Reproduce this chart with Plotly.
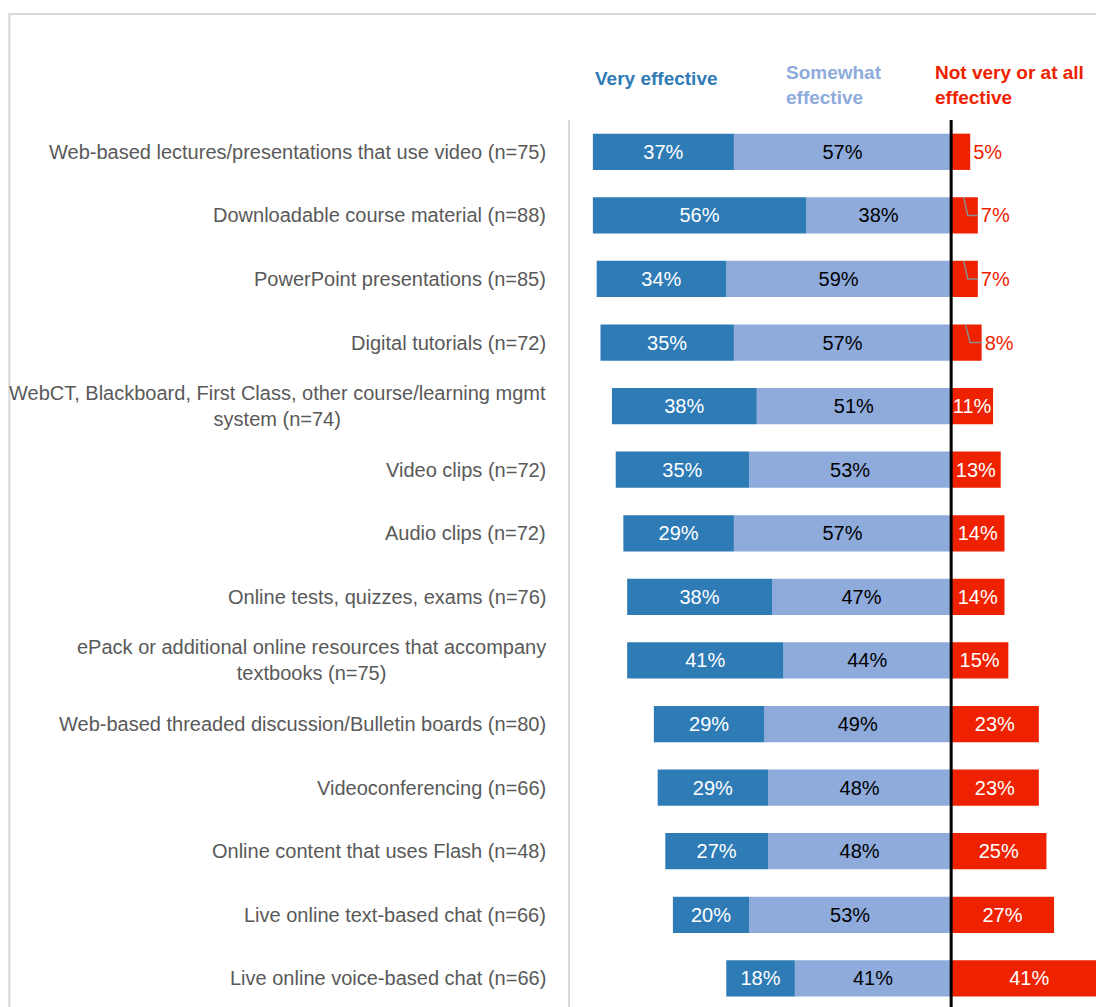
import plotly.graph_objects as go

# Survey: perceived effectiveness of online teaching tools (share of respondents, %)
categories = [
    "Web-based lectures/presentations that use video (n=75)",
    "Downloadable course material (n=88)",
    "PowerPoint presentations (n=85)",
    "Digital tutorials (n=72)",
    "WebCT, Blackboard, First Class, other course/learning mgmt<br>system (n=74)",
    "Video clips (n=72)",
    "Audio clips (n=72)",
    "Online tests, quizzes, exams (n=76)",
    "ePack or additional online resources that accompany<br>textbooks (n=75)",
    "Web-based threaded discussion/Bulletin boards (n=80)",
    "Videoconferencing (n=66)",
    "Online content that uses Flash (n=48)",
    "Live online text-based chat (n=66)",
    "Live online voice-based chat (n=66)",
]
very_effective = [37, 56, 34, 35, 38, 35, 29, 38, 41, 29, 29, 27, 20, 18]
somewhat_effective = [57, 38, 59, 57, 51, 53, 57, 47, 44, 49, 48, 48, 53, 41]
not_effective = [5, 7, 7, 8, 11, 13, 14, 14, 15, 23, 23, 25, 27, 41]
# rows whose outside label is tied to its bar with a leader line
leader_rows = [False, True, True, True, False, False, False, False, False,
               False, False, False, False, False]

C_VERY = "#2E7BB6"
C_SOME = "#8EABDC"
C_NOT = "#EE2200"
FONT = "Liberation Sans Narrow, Arial Narrow, Liberation Sans, Arial, sans-serif"
BAR_W = 0.57
OUTSIDE_LIMIT = 10
VAL_SIZE = 20

ypos = list(range(len(categories)))

fig = go.Figure()

# Negative side: "somewhat" sits next to the zero line, "very" stacks beyond it
fig.add_trace(go.Bar(
    y=ypos, x=[-v for v in somewhat_effective], orientation="h",
    marker=dict(color=C_SOME, line=dict(width=0)), width=BAR_W,
    text=[f"{v}%" for v in somewhat_effective], textposition="inside",
    insidetextanchor="middle", textangle=0, constraintext="none",
    textfont=dict(color="black", size=VAL_SIZE, family=FONT),
    name="Somewhat effective", hoverinfo="skip",
))
fig.add_trace(go.Bar(
    y=ypos, x=[-v for v in very_effective], orientation="h",
    marker=dict(color=C_VERY, line=dict(width=0)), width=BAR_W,
    text=[f"{v}%" for v in very_effective], textposition="inside",
    insidetextanchor="middle", textangle=0, constraintext="none",
    textfont=dict(color="white", size=VAL_SIZE, family=FONT),
    name="Very effective", hoverinfo="skip",
))
fig.add_trace(go.Bar(
    y=ypos, x=not_effective, orientation="h",
    marker=dict(color=C_NOT, line=dict(width=0)), width=BAR_W,
    text=[f"{v}%" for v in not_effective],
    textposition=["outside" if v < OUTSIDE_LIMIT else "inside" for v in not_effective],
    insidetextanchor="middle", textangle=0, constraintext="none",
    insidetextfont=dict(color="white", size=VAL_SIZE, family=FONT),
    outsidetextfont=dict(color=C_NOT, size=VAL_SIZE, family=FONT),
    name="Not very or at all effective", hoverinfo="skip",
))

shapes = []
# Zero line drawn above the bars
shapes.append(dict(type="line", xref="x", yref="paper", x0=0, x1=0, y0=0, y1=1,
                   line=dict(color="black", width=3), layer="above"))
# Leader lines for small outside labels
for i, (v, lead) in enumerate(zip(not_effective, leader_rows)):
    if lead and v < OUTSIDE_LIMIT:
        top = i - BAR_W / 2
        shapes.append(dict(
            type="path", xref="x", yref="y", layer="above",
            path=f"M {v*0.47} {top} L {v*0.62} {i} L {v} {i}",
            line=dict(color="#8C8C8C", width=1.5),
        ))
# Light chart frame
shapes.append(dict(type="rect", xref="paper", yref="paper",
                   x0=-1.066, x1=1.2, y0=-0.2, y1=1.1195,
                   line=dict(color="#D9D9D9", width=2), layer="below"))

annotations = []
for i, cat in enumerate(categories):
    annotations.append(dict(
        x=0, xref="paper", xshift=-22, y=i, yref="y",
        text=cat, showarrow=False, xanchor="right", yanchor="middle",
        align="center", font=dict(size=20, color="#595959", family=FONT),
    ))

header_font = dict(size=19, family=FONT)
annotations += [
    dict(x=0.0437, y=1.047, xref="paper", yref="paper", text="<b>Very effective</b>",
         showarrow=False, xanchor="left", yanchor="middle", align="left",
         font=dict(color=C_VERY, **header_font)),
    dict(x=0.4068, y=1.040, xref="paper", yref="paper", text="<b>Somewhat<br>effective</b>",
         showarrow=False, xanchor="left", yanchor="middle", align="left",
         font=dict(color=C_SOME, **header_font)),
    dict(x=0.690, y=1.040, xref="paper", yref="paper",
         text="<b>Not very or at all<br>effective</b>",
         showarrow=False, xanchor="left", yanchor="middle", align="left",
         font=dict(color=C_NOT, **header_font)),
]

fig.update_layout(
    width=1096, height=1007,
    margin=dict(l=570, r=0, t=120, b=0),
    barmode="relative", bargap=0.43,
    showlegend=False,
    paper_bgcolor="white", plot_bgcolor="white",
    shapes=shapes, annotations=annotations,
    font=dict(family=FONT),
)
fig.update_xaxes(range=[-100, 38], showticklabels=False, showgrid=False,
                 zeroline=False, ticks="")
fig.update_yaxes(range=[13.45, -0.5], showticklabels=False, showgrid=False,
                 zeroline=False, ticks="", showline=True, linecolor="#D9D9D9",
                 linewidth=2)

fig.write_html("out.html")
